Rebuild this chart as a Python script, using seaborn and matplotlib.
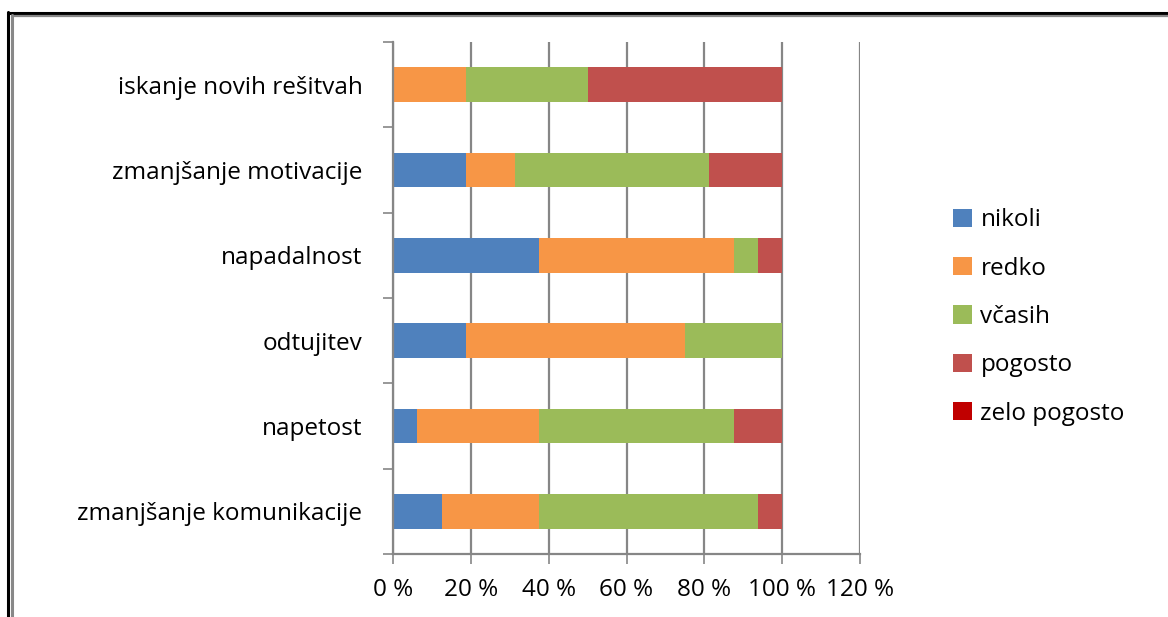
import numpy as np
import pandas as pd
import matplotlib
matplotlib.use("Agg")
import matplotlib.pyplot as plt
from matplotlib.patches import Patch
from matplotlib.lines import Line2D
from matplotlib.ticker import FixedLocator, FuncFormatter
import seaborn as sns

# Share of answers per reaction (percent)
categories = [
    "iskanje novih rešitvah",
    "zmanjšanje motivacije",
    "napadalnost",
    "odtujitev",
    "napetost",
    "zmanjšanje komunikacije",
]
nikoli = [0.0, 18.75, 37.5, 18.75, 6.25, 12.5]
redko = [18.75, 12.5, 50.0, 56.25, 31.25, 25.0]
vcasih = [31.25, 50.0, 6.25, 25.0, 50.0, 56.25]
pogosto = [50.0, 18.75, 6.25, 0.0, 12.5, 6.25]
zelo_pogosto = [0.0, 0.0, 0.0, 0.0, 0.0, 0.0]

series_names = ["nikoli", "redko", "včasih", "pogosto", "zelo pogosto"]
series_values = [nikoli, redko, vcasih, pogosto, zelo_pogosto]
series_colors = ["#4F81BD", "#F79646", "#9BBB59", "#C0504D", "#C00000"]
x_ticks = [0, 20, 40, 60, 80, 100, 120]

sns.set_theme(style="white")
plt.rcParams["font.family"] = ["Open Sans", "DejaVu Sans"]
FS = 17.5

df = pd.DataFrame({"kategorija": categories})
cum = np.zeros(len(categories))
cum_cols = []
for name, vals in zip(series_names, series_values):
    cum = cum + np.asarray(vals, dtype=float)
    col = "cum_" + name
    df[col] = cum
    cum_cols.append(col)

fig = plt.figure(figsize=(11.68, 6.17), dpi=100)
ax = fig.add_axes([393 / 1168, 1 - 554 / 617, (860 - 393) / 1168, (554 - 42) / 617])

# Stacked bars: draw cumulative totals from the outermost segment inwards
for col, color in reversed(list(zip(cum_cols, series_colors))):
    sns.barplot(data=df, y="kategorija", x=col, order=categories, color=color,
                orient="h", width=0.41, saturation=1, linewidth=0, ax=ax, zorder=3)

ax.set_xlim(0, 120)
ax.set_ylim(5.5, -0.5)
ax.xaxis.set_major_locator(FixedLocator(x_ticks))
ax.xaxis.set_major_formatter(FuncFormatter(lambda v, p: f"{v:.0f} %"))
ax.set_xlabel("")
ax.set_ylabel("")

grid_color = "#868686"
ax.grid(axis="x", color=grid_color, linewidth=1.6, zorder=0)
ax.grid(axis="y", visible=False)
ax.set_axisbelow(True)

for side in ["top", "right"]:
    ax.spines[side].set_visible(False)
for side in ["left", "bottom"]:
    ax.spines[side].set_visible(True)
    ax.spines[side].set_color(grid_color)
    ax.spines[side].set_linewidth(1.6)
    ax.spines[side].set_zorder(4)

ax.yaxis.set_minor_locator(FixedLocator(np.arange(-0.5, 6.0, 1.0)))
ax.tick_params(axis="y", which="major", length=0, pad=22, labelsize=FS, labelcolor="#000000")
ax.tick_params(axis="y", which="minor", left=True, length=7, width=1.2, color=grid_color)
ax.tick_params(axis="x", which="major", bottom=True, length=7, width=1.2, color=grid_color,
               pad=10, labelsize=FS, labelcolor="#000000")

handles = [Patch(facecolor=c, edgecolor="none") for c in series_colors]
fig.legend(handles, series_names, loc="center left",
           bbox_to_anchor=(953 / 1168, 1 - 317 / 617), frameon=False,
           fontsize=FS, labelcolor="#000000", handlelength=0.78, handleheight=0.78,
           handletextpad=0.35, labelspacing=1.0, borderpad=0, borderaxespad=0)

# Outer frame: black line with a grey inner line along the top and left
fig.add_artist(Line2D([8 / 1168, 1], [1 - 13 / 617, 1 - 13 / 617], color="black", linewidth=2.2))
fig.add_artist(Line2D([12 / 1168, 1], [1 - 15.5 / 617, 1 - 15.5 / 617], color="#888888", linewidth=1.6))
fig.add_artist(Line2D([8 / 1168, 8 / 1168], [0, 1 - 12 / 617], color="black", linewidth=2.2))
fig.add_artist(Line2D([12 / 1168, 12 / 1168], [0, 1 - 15 / 617], color="#888888", linewidth=2.2))

fig.savefig("out.png", dpi=100)
